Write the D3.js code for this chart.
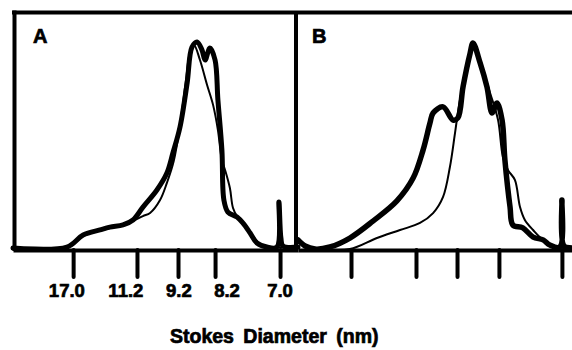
<!DOCTYPE html>
<html>
<head>
<meta charset="utf-8">
<script src="https://cdn.jsdelivr.net/npm/d3@7"></script>
<style>
  html, body { margin: 0; padding: 0; background: #fff; }
  svg { display: block; }
  text { font-family: "Liberation Sans", Arial, Helvetica, sans-serif; font-weight: bold; fill: #000; stroke: #000; stroke-width: 0.7px; }
</style>
</head>
<body>
<svg id="chart" width="572" height="350"></svg>
<script>
// ---- Data (migration distance 0-100 across each panel, relative intensity 0-100) ----
const panelNames = ["A", "B"];

// Panel A, heavy trace
const aThickX = [0, 18.9, 24.6, 30.5, 34.0, 38.6, 42.1, 45.6, 50.5, 54.0, 56.1, 58.6, 61.1, 62.8, 64.6, 66.3, 67.4, 69.1, 70.9, 71.9, 73.3, 74.0, 75.4, 78.6, 80.7, 83.2, 85.6, 89.1, 92.6, 93.3, 94.0, 94.7, 100];
const aThickY = [0, 0.4, 5.5, 7.7, 8.9, 9.8, 11.9, 17.4, 24.7, 31.9, 40.4, 51.5, 70.2, 85.5, 87.7, 84.3, 80.0, 85.1, 80.0, 63.0, 41.7, 20.4, 15.3, 13.2, 10.6, 6.4, 2.1, 0.4, 0.4, 19.6, 4.3, 0.9, 0.4];
// Panel A, light trace
const aThinX = [0, 18.9, 24.6, 34.0, 41.1, 45.6, 48.1, 51.6, 54.0, 56.4, 58.6, 60.7, 62.1, 63.5, 65.6, 68.1, 70.2, 71.9, 73.3, 74.4, 76.1, 77.2, 78.6, 81.4, 83.9, 86.7, 90.2, 100];
const aThinY = [0, 0.4, 5.1, 8.5, 11.1, 13.6, 14.9, 20.4, 27.7, 37.0, 52.3, 71.5, 83.4, 86.4, 80.0, 69.4, 60.9, 50.2, 37.4, 33.2, 25.5, 17.0, 13.6, 10.2, 5.5, 1.7, 0.4, 0.4];

// Panel B, heavy trace
const bThickX = [0, 2.5, 6.0, 11.2, 18.2, 26.3, 34.7, 40.4, 43.9, 46.3, 47.4, 50.9, 54.4, 56.1, 57.9, 60.4, 61.4, 63.9, 66.3, 68.1, 69.8, 71.6, 72.6, 74.4, 75.4, 78.9, 82.5, 86.0, 88.4, 91.9, 92.6, 93.3, 96.1, 100];
const bThickY = [4.3, 1.7, 0.4, 1.3, 5.1, 12.3, 20.9, 30.6, 42.6, 54.0, 58.3, 60.9, 55.3, 56.2, 69.4, 83.8, 88.1, 79.6, 69.4, 58.3, 62.6, 55.3, 38.3, 18.3, 10.6, 9.4, 5.5, 4.3, 2.1, 1.3, 21.3, 1.7, 0.9, 0.9];
// Panel B, light trace
const bThinX = [7.7, 18.2, 27.7, 35.8, 42.8, 47.4, 50.9, 53.3, 55.1, 56.8, 59.3, 61.4, 64.6, 67.4, 70.2, 71.9, 73.7, 76.1, 77.9, 79.6, 82.5, 86.0, 90.2, 96.1, 100];
const bThinY = [0.4, 0.4, 5.1, 8.5, 11.5, 15.7, 22.6, 35.3, 49.8, 63.8, 77.0, 88.1, 77.4, 66.8, 55.3, 39.6, 34.0, 29.8, 18.3, 12.8, 8.5, 4.3, 1.7, 0.9, 0.9];

// Marker positions (migration units) and their Stokes diameters (nm)
const ticksA = [21.1, 43.5, 57.9, 70.9, 93.7];
const ticksB = [18.6, 41.4, 55.8, 70.5, 92.6];
const tickLabels = ["17.0", "11.2", "9.2", "8.2", "7.0"];
const tickLabelPos = [18.9, 39.6, 58.2, 75.1, 93.7];
const axisTitle = "Stokes Diameter (nm)";

// ---- Drawing ----
const svg = d3.select("#chart");

const xA = d3.scaleLinear().domain([0, 100]).range([13, 298]);
const yA = d3.scaleLinear().domain([0, 100]).range([248, 13]);
const xB = d3.scaleLinear().domain([0, 100]).range([298, 583]);
const yB = d3.scaleLinear().domain([0, 100]).range([250, 15]);

function zip(xs, ys) { return xs.map((x, i) => [x, ys[i]]); }

function drawTrace(xs, ys, x, y, w) {
  const line = d3.line().x(d => x(d[0])).y(d => y(d[1])).curve(d3.curveCatmullRom.alpha(0.5));
  svg.append("path")
    .attr("d", line(zip(xs, ys)))
    .attr("fill", "none")
    .attr("stroke", "#000")
    .attr("stroke-width", w)
    .attr("stroke-linejoin", "round")
    .attr("stroke-linecap", "round");
}

// Frame: top, left, divider
svg.append("line").attr("x1", 12).attr("x2", 572).attr("y1", 12.5).attr("y2", 12.5)
  .attr("stroke", "#000").attr("stroke-width", 4);
svg.append("line").attr("x1", 14.5).attr("x2", 14.5).attr("y1", 10.5).attr("y2", 251)
  .attr("stroke", "#000").attr("stroke-width", 4);
svg.append("line").attr("x1", 296).attr("x2", 296).attr("y1", 12).attr("y2", 251)
  .attr("stroke", "#000").attr("stroke-width", 4);

// Axes (baseline + marker ticks)
function drawAxis(x, ticks) {
  const g = svg.append("g").attr("transform", "translate(0,250)")
    .call(d3.axisBottom(x).tickValues(ticks).tickSize(27).tickSizeOuter(0).tickFormat(""));
  g.select(".domain").attr("stroke", "#000").attr("stroke-width", 4);
  g.selectAll(".tick line").attr("stroke", "#000").attr("stroke-width", 4).attr("stroke-linecap", "round");
}
drawAxis(xA, ticksA);
drawAxis(xB, ticksB);

// Traces
drawTrace(aThinX, aThinY, xA, yA, 2);
drawTrace(aThickX, aThickY, xA, yA, 5);
drawTrace(bThinX, bThinY, xB, yB, 2);
drawTrace(bThickX, bThickY, xB, yB, 5.5);

// Tick labels
svg.append("g").selectAll("text").data(tickLabels).join("text")
  .attr("x", (d, i) => xA(tickLabelPos[i]))
  .attr("y", 297)
  .attr("text-anchor", "middle")
  .attr("font-size", 18.5)
  .text(d => d);

// Panel letters
svg.append("text").attr("x", 33).attr("y", 43).attr("font-size", 20).text(panelNames[0]);
svg.append("text").attr("x", 312).attr("y", 43).attr("font-size", 20).text(panelNames[1]);

// Axis title
svg.append("text").attr("x", 170).attr("y", 343).attr("font-size", 19.5)
  .attr("word-spacing", 4).text(axisTitle);
</script>
</body>
</html>
